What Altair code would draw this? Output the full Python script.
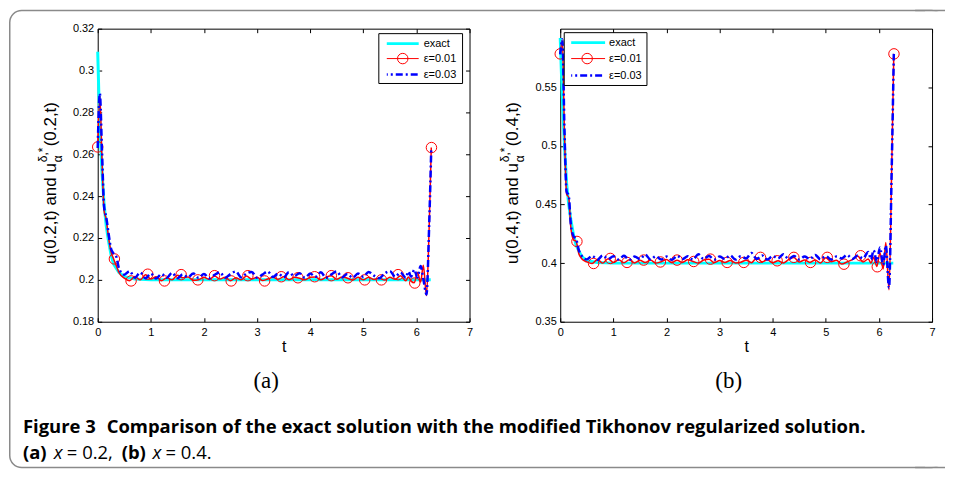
import altair as alt
import pandas as pd

# ---------------- data ----------------
X_TICKS = [0, 1, 2, 3, 4, 5, 6, 7]
Y_TICKS_A = [0.18, 0.2, 0.22, 0.24, 0.26, 0.28, 0.3, 0.32]
Y_TICKS_B = [0.35, 0.4, 0.45, 0.5, 0.55]

# exact solution
EX_T = [0, 0.02, 0.05, 0.08, 0.12, 0.16, 0.2, 0.25, 0.3, 0.4, 0.5, 0.7, 1.0, 6.27]
EX_A = [0.309, 0.290, 0.268, 0.252, 0.236, 0.226, 0.219, 0.212, 0.2075, 0.2035,
        0.2015, 0.2004, 0.2000, 0.2000]
EX_B = [0.592, 0.565, 0.530, 0.500, 0.468, 0.450, 0.437, 0.424, 0.415, 0.406,
        0.402, 0.4005, 0.4000, 0.4000]

# regularized solutions (time grid shared by both eps curves)
T = [0, 0.04, 0.08, 0.12, 0.16, 0.2, 0.25, 0.3, 0.35,
     0.4, 0.5, 0.6, 0.7, 0.8, 0.9, 1.0, 1.1, 1.2, 1.3, 1.4,
     1.5, 1.6, 1.7, 1.8, 1.9, 2.0, 2.1, 2.2, 2.3, 2.4,
     2.5, 2.6, 2.7, 2.8, 2.9, 3.0, 3.1, 3.2, 3.3, 3.4,
     3.5, 3.6, 3.7, 3.8, 3.9, 4.0, 4.1, 4.2, 4.3, 4.4,
     4.5, 4.6, 4.7, 4.8, 4.9, 5.0, 5.1, 5.2, 5.3, 5.4,
     5.5, 5.6, 5.7, 5.8,
     5.85, 5.9, 5.96, 6.02, 6.08, 6.13, 6.19, 6.24, 6.28]

RED_A = [0.2635, 0.2880, 0.2580, 0.2330, 0.2290, 0.2210, 0.2135, 0.2100, 0.2068,
         0.2035, 0.2008, 0.1996, 0.2016, 0.2000, 0.2024, 0.2004, 0.2015, 0.1996, 0.2010, 0.2000,
         0.2022, 0.2010, 0.2014, 0.1998, 0.2001, 0.2012, 0.2002, 0.2019, 0.2004, 0.2013,
         0.1996, 0.2010, 0.2000, 0.2018, 0.2004, 0.2012, 0.1997, 0.2004, 0.2012, 0.2003,
         0.2015, 0.2001, 0.2012, 0.2008, 0.2000, 0.2012, 0.2014, 0.2000, 0.2013, 0.2020,
         0.2003, 0.2014, 0.2008, 0.1999, 0.2012, 0.2000, 0.2013, 0.2002, 0.2008, 0.1999,
         0.2012, 0.2003, 0.2020, 0.1996,
         0.2014, 0.1994, 0.1986, 0.2035, 0.1990, 0.2070, 0.1925, 0.2250, 0.2632]

BLUE_A = [0.2630, 0.2890, 0.2620, 0.2350, 0.2300, 0.2230, 0.2150, 0.2125, 0.2110,
          0.2055, 0.2025, 0.2042, 0.2010, 0.2035, 0.2008, 0.2030, 0.2006, 0.2028, 0.2010, 0.2034,
          0.2008, 0.2026, 0.2012, 0.2030, 0.2010, 0.2028, 0.2008, 0.2024, 0.2036, 0.2010,
          0.2028, 0.2040, 0.2012, 0.2030, 0.2038, 0.2010, 0.2025, 0.2040, 0.2014, 0.2030,
          0.2012, 0.2036, 0.2018, 0.2032, 0.2010, 0.2030, 0.2015, 0.2036, 0.2010, 0.2026,
          0.2040, 0.2012, 0.2028, 0.2010, 0.2030, 0.2015, 0.2038, 0.2020, 0.2008, 0.2030,
          0.2042, 0.2015, 0.2035, 0.2010,
          0.2040, 0.2015, 0.2048, 0.2012, 0.2066, 0.2005, 0.1930, 0.2260, 0.2632]

RED_B = [0.5785, 0.5900, 0.5100, 0.4590, 0.4560, 0.4300, 0.4200, 0.4185, 0.4080,
         0.4040, 0.4010, 0.3996, 0.4030, 0.4000, 0.4038, 0.4005, 0.4028, 0.4004, 0.4028, 0.4002,
         0.4024, 0.4005, 0.4026, 0.4000, 0.4012, 0.4030, 0.4004, 0.4025, 0.4006, 0.4028,
         0.4014, 0.4000, 0.4026, 0.4032, 0.4004, 0.4022, 0.4006, 0.4022, 0.4002, 0.4008,
         0.4025, 0.4004, 0.4046, 0.4010, 0.4028, 0.4003, 0.4020, 0.4002, 0.4030, 0.4048,
         0.4010, 0.4026, 0.4006, 0.4026, 0.4002, 0.4046, 0.4012, 0.4024, 0.3992, 0.4010,
         0.4030, 0.4060, 0.4010, 0.4035,
         0.4000, 0.4050, 0.3972, 0.4088, 0.3950, 0.4176, 0.3772, 0.4800, 0.5785]

BLUE_B = [0.5780, 0.5910, 0.5130, 0.4610, 0.4575, 0.4330, 0.4230, 0.4205, 0.4110,
          0.4065, 0.4032, 0.4062, 0.4028, 0.4066, 0.4035, 0.4058, 0.4030, 0.4062, 0.4028, 0.4056,
          0.4034, 0.4072, 0.4030, 0.4060, 0.4030, 0.4056, 0.4028, 0.4062, 0.4035, 0.4058,
          0.4030, 0.4076, 0.4035, 0.4060, 0.4030, 0.4056, 0.4035, 0.4066, 0.4030, 0.4058,
          0.4040, 0.4086, 0.4035, 0.4066, 0.4030, 0.4060, 0.4040, 0.4076, 0.4035, 0.4060,
          0.4030, 0.4056, 0.4035, 0.4070, 0.4032, 0.4060, 0.4030, 0.4056, 0.4040, 0.4070,
          0.4035, 0.4065, 0.4040, 0.4095,
          0.4030, 0.4110, 0.4010, 0.4134, 0.3985, 0.4150, 0.3790, 0.4790, 0.5785]

# circle markers on the eps=0.01 curve
T_MK = [0, 0.314, 0.628, 0.942, 1.257, 1.571, 1.885, 2.199, 2.513, 2.827, 3.142,
        3.456, 3.770, 4.084, 4.398, 4.712, 5.027, 5.341, 5.655, 5.969, 6.283]
MK_A = [0.2635, 0.2100, 0.1995, 0.2027, 0.1995, 0.2025, 0.2000, 0.2020, 0.1995, 0.2020,
        0.1995, 0.2015, 0.2010, 0.2015, 0.2020, 0.2010, 0.2000, 0.2000, 0.2025, 0.1985, 0.2632]
MK_B = [0.5785, 0.4185, 0.3997, 0.4040, 0.4006, 0.4026, 0.4010, 0.4026, 0.4014, 0.4034,
        0.4006, 0.4006, 0.4049, 0.4020, 0.4049, 0.4006, 0.4049, 0.3991, 0.4063, 0.3969, 0.5785]

LEGEND_LABELS = ["exact", "ε=0.01", "ε=0.03"]
CAPTION_HEAD = "Figure 3"
CAPTION_1 = "Comparison of the exact solution with the modified Tikhonov regularized solution."

# ---------------- styling ----------------
W, H = 373, 294
FONT = "Liberation Sans"
CYAN, RED, BLUE = "#00FFFF", "#FF0000", "#0000FF"
DASHDOT = [7, 3, 2, 3]
ONE = pd.DataFrame({"d": [0]})


def tick_axis(orient, offset, values):
    return alt.Axis(orient=orient, offset=offset, values=values, labels=False,
                    domain=False, grid=False, ticks=True, tickSize=4,
                    tickColor="black", tickWidth=1, title="")


def txt(s, x, y, size=11, font=FONT, weight="normal", style="normal",
        align="left", angle=0, baseline="middle", color="black"):
    kw = dict(text=s, font=font, fontSize=size, fontWeight=weight,
              fontStyle=style, align=align, baseline=baseline, color=color)
    if angle:
        kw["angle"] = angle
    return alt.Chart(ONE).mark_text(**kw).encode(x=alt.value(x), y=alt.value(y))


def panel(ex_v, red_v, blue_v, mk_v, ydom, yticks, title_parts, letter, leg, extra):
    xs = alt.Scale(domain=[0, 7], nice=False, zero=False)
    ys = alt.Scale(domain=ydom, nice=False, zero=False)

    ex_df = pd.DataFrame({"t": EX_T, "u": ex_v})
    red_df = pd.DataFrame({"t": T, "u": red_v})
    blue_df = pd.DataFrame({"t": T, "u": blue_v})
    mk_df = pd.DataFrame({"t": T_MK, "u": mk_v})

    exact = alt.Chart(ex_df).mark_line(color=CYAN, strokeWidth=3).encode(
        x=alt.X("t:Q", scale=xs, axis=alt.Axis(
            orient="bottom", values=X_TICKS, format="d", tickSize=0, domain=False,
            grid=False, labelFont=FONT, labelFontSize=11, labelColor="black",
            labelPadding=5, labelFlush=False, labelOverlap=False, title="t",
            titleFont=FONT, titleFontSize=16, titleFontWeight="normal",
            titleColor="black", titlePadding=1)),
        y=alt.Y("u:Q", scale=ys, axis=alt.Axis(
            orient="left", values=yticks, format=".2~f", tickSize=0, domain=False,
            grid=False, labelFont=FONT, labelFontSize=11, labelColor="black",
            labelPadding=4, labelFlush=False, labelOverlap=False, title="")),
    )
    red = alt.Chart(red_df).mark_line(color=RED, strokeWidth=1.5, interpolate="monotone").encode(
        x=alt.X("t:Q", scale=xs, axis=tick_axis("top", -H, X_TICKS)),
        y=alt.Y("u:Q", scale=ys, axis=tick_axis("right", -W, yticks)),
    )
    marks = alt.Chart(mk_df).mark_point(shape="circle", filled=False, color=RED,
                                        size=110, strokeWidth=1, opacity=1).encode(
        x=alt.X("t:Q", scale=xs, axis=tick_axis("bottom", -H, X_TICKS)),
        y=alt.Y("u:Q", scale=ys, axis=tick_axis("left", -W, yticks)),
    )
    blue = alt.Chart(blue_df).mark_line(color=BLUE, strokeWidth=2.5, strokeDash=DASHDOT,
                                        interpolate="monotone").encode(
        x=alt.X("t:Q", scale=xs, axis=None),
        y=alt.Y("u:Q", scale=ys, axis=None),
    )

    # legend
    bx0, bx1, by0, by1, lx0, lx1, cx, tx, rows = leg
    legend = [
        alt.Chart(ONE).mark_rect(fill="white", stroke="black", strokeWidth=1).encode(
            x=alt.value(bx0), x2=alt.value(bx1), y=alt.value(by0), y2=alt.value(by1)),
        alt.Chart(ONE).mark_rule(color=CYAN, strokeWidth=3).encode(
            x=alt.value(lx0), x2=alt.value(lx1), y=alt.value(rows[0])),
        alt.Chart(ONE).mark_rule(color=RED, strokeWidth=1).encode(
            x=alt.value(lx0), x2=alt.value(lx1), y=alt.value(rows[1])),
        alt.Chart(ONE).mark_point(shape="circle", filled=False, color=RED, size=110,
                                  strokeWidth=1, opacity=1).encode(
            x=alt.value(cx), y=alt.value(rows[1])),
        alt.Chart(ONE).mark_rule(color=BLUE, strokeWidth=2.5, strokeDash=DASHDOT,
                                 strokeDashOffset=6).encode(
            x=alt.value(lx0), x2=alt.value(lx1), y=alt.value(rows[2])),
    ]
    for lab, ry in zip(LEGEND_LABELS, rows):
        legend.append(txt(lab, tx, ry, size=11))

    # composite y-axis title (rotated)
    m1, sup, sub, m2 = title_parts
    yb, xc = 236, -47
    ytitle = [
        txt(m1, xc, yb, size=17, angle=270),
        txt(sup, xc - 8, yb - 102, size=12, angle=270),
        txt(sub, xc + 7, yb - 102, size=12, angle=270),
        txt(m2, xc, yb - 118, size=17, angle=270),
    ]

    sub_label = txt(letter, 169, 353, size=23, font="Liberation Serif", align="center")

    layers = [exact, red, marks, blue] + legend + ytitle + [sub_label] + extra
    return alt.layer(*layers).resolve_axis(x="independent", y="independent").properties(
        width=W, height=H)


# figure frame (open on the right) and caption, placed relative to the left panel
FR_X0, FR_X1, FR_Y0, FR_Y1 = -89, 849, -18.25, 440.25
GREY = "#8a8a8a"
frame = [
    alt.Chart(ONE).mark_rect(fill="white", fillOpacity=0, stroke=GREY,
                             strokeWidth=1.5, cornerRadius=12).encode(
        x=alt.value(FR_X0 + 0.75), x2=alt.value(FR_X1 - 0.75),
        y=alt.value(FR_Y0), y2=alt.value(FR_Y1)),
    alt.Chart(ONE).mark_rect(fill="white", strokeWidth=0).encode(
        x=alt.value(830), x2=alt.value(850), y=alt.value(-17.4), y2=alt.value(439.4)),
    alt.Chart(ONE).mark_rule(color=GREY, strokeWidth=1.5).encode(
        x=alt.value(820), x2=alt.value(850), y=alt.value(FR_Y0)),
    alt.Chart(ONE).mark_rule(color=GREY, strokeWidth=1.5).encode(
        x=alt.value(820), x2=alt.value(850), y=alt.value(FR_Y1)),
]

CAP_FONT = "Open Sans"
CS = 18.5
caption = [
    txt(CAPTION_HEAD, -75, 400, size=CS, font=CAP_FONT, weight="bold"),
    txt(CAPTION_1, 9, 400, size=CS, font=CAP_FONT, weight="bold"),
    txt("(a)", -75, 426, size=CS, font=CAP_FONT, weight="bold"),
    txt("x", -44, 426, size=CS, font=CAP_FONT, style="italic"),
    txt("= 0.2,", -31, 426, size=CS, font=CAP_FONT),
    txt("(b)", 24, 426, size=CS, font=CAP_FONT, weight="bold"),
    txt("x", 55, 426, size=CS, font=CAP_FONT, style="italic"),
    txt("= 0.4.", 68, 426, size=CS, font=CAP_FONT),
]

left = panel(EX_A, RED_A, BLUE_A, MK_A, [0.18, 0.32], Y_TICKS_A,
             ("u(0.2,t) and u", "δ,*", "α", "(0.2,t)"), "(a)",
             (282, 366, 5, 55, 290, 322, 306, 327, [15, 30, 46]),
             frame + caption)
right = panel(EX_B, RED_B, BLUE_B, MK_B, [0.35, 0.6], Y_TICKS_B,
              ("u(0.4,t) and u", "δ,*", "α", "(0.4,t)"), "(b)",
              (4, 87, 4, 57, 11, 45, 27, 49, [14, 30, 47]),
              [])

chart = alt.hconcat(left, right, spacing=91, bounds="flush").properties(
    padding=0, background="white"
).configure_view(stroke="black", strokeWidth=1)

chart.save("out.html", embed_options={"renderer": "svg", "actions": False})
